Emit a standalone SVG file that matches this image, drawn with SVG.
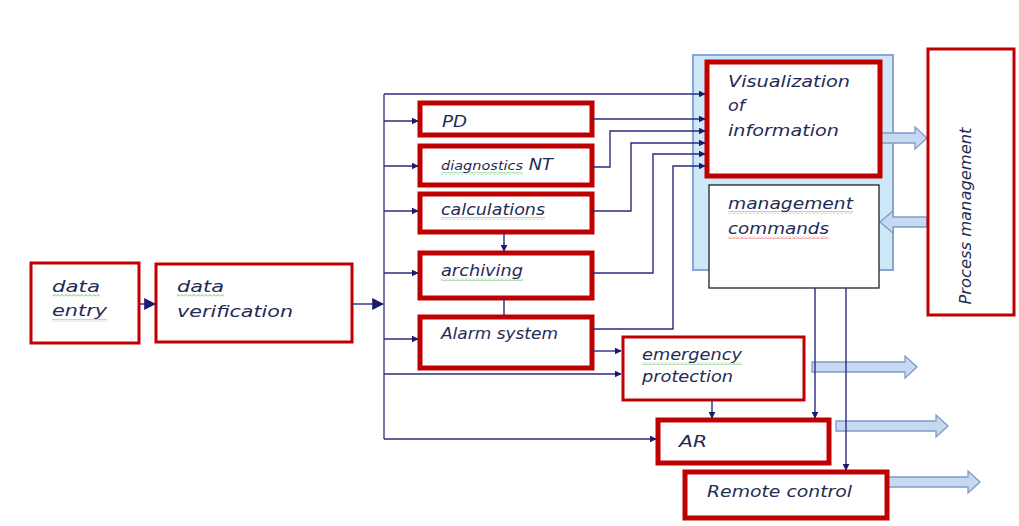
<svg xmlns="http://www.w3.org/2000/svg" width="1019" height="526" viewBox="0 0 1019 526">
<defs>
<marker id="ah" viewBox="0 0 10 10" refX="9" refY="5" markerWidth="7" markerHeight="7" markerUnits="userSpaceOnUse" orient="auto"><path d="M0,0 L10,5 L0,10 Z" fill="#1a1a6e"/></marker>
<marker id="ahb" viewBox="0 0 10 10" refX="9" refY="5" markerWidth="12" markerHeight="12" markerUnits="userSpaceOnUse" orient="auto"><path d="M0,0 L10,5 L0,10 Z" fill="#1a1a6e"/></marker>
<pattern id="gw" width="4" height="3" patternUnits="userSpaceOnUse"><path d="M0,2.5 L2,0.5 L4,2.5" fill="none" stroke="#4caf50" stroke-width="0.8"/></pattern>
<pattern id="rw" width="4" height="3" patternUnits="userSpaceOnUse"><path d="M0,2.5 L2,0.5 L4,2.5" fill="none" stroke="#e05050" stroke-width="0.8"/></pattern>
</defs>
<style>
.box{fill:#fff;stroke:#c00000;stroke-width:3}
.thick{stroke-width:5}
.t{font-family:"DejaVu Sans","Open Sans",sans-serif;font-style:italic;font-size:16px;fill:#1f2b55}
.c{fill:none;stroke:#2b2b7c;stroke-width:1.4}
.bus{fill:none;stroke:#55558f;stroke-width:1.6}
.blk{fill:#c6d9f0;stroke:#7e9cc8;stroke-width:1.3}
</style>
<rect width="1019" height="526" fill="#fff"/>
<g id="panel"><rect x="693" y="55" width="200" height="215" fill="#cfe8f8" stroke="#8aa4d6" stroke-width="2"/></g>
<g id="block-arrows">
<path class="blk" d="M881,133 L915,133 L915,127 L927,138 L915,149 L915,143 L881,143 Z"/>
<path class="blk" d="M927,217 L893,217 L893,211 L880,222 L893,233 L893,227 L927,227 Z"/>
<path class="blk" d="M812,362 L905,362 L905,356 L917,367 L905,378 L905,372 L812,372 Z"/>
<path class="blk" d="M836,421 L936,421 L936,415 L948,426 L936,437 L936,431 L836,431 Z"/>
<path class="blk" d="M887,477 L968,477 L968,471 L980,482 L968,493 L968,487 L887,487 Z"/>
</g>
<g id="data-entry"><rect class="box" x="31" y="263" width="108" height="80"/>
<rect x="52" y="294" width="48" height="3" fill="url(#gw)"/><rect x="52" y="319" width="55" height="3" fill="url(#gw)"/>
<text class="t" x="52" y="292" textLength="48" lengthAdjust="spacingAndGlyphs">data</text><text class="t" x="52" y="316" textLength="55" lengthAdjust="spacingAndGlyphs">entry</text></g>
<g id="data-verification"><rect class="box" x="156" y="264" width="196" height="78" stroke-width="4"/>
<rect x="177" y="294" width="47" height="3" fill="url(#gw)"/>
<text class="t" x="177" y="292" textLength="47" lengthAdjust="spacingAndGlyphs">data</text><text class="t" x="177" y="317" textLength="116" lengthAdjust="spacingAndGlyphs">verification</text></g>
<g id="pd"><rect class="box thick" x="420" y="103" width="172" height="32"/><text class="t" x="442" y="127" textLength="25" lengthAdjust="spacingAndGlyphs">PD</text></g>
<g id="diagnostics"><rect class="box thick" x="420" y="146" width="172" height="39"/>
<rect x="441" y="172" width="82" height="3" fill="url(#gw)"/>
<text class="t" x="441" y="170" textLength="112" lengthAdjust="spacingAndGlyphs"><tspan font-size="13">diagnostics</tspan> NT</text></g>
<g id="calculations"><rect class="box thick" x="420" y="194" width="172" height="38"/>
<rect x="441" y="217" width="104" height="3" fill="url(#gw)"/>
<text class="t" x="441" y="215" textLength="104" lengthAdjust="spacingAndGlyphs">calculations</text></g>
<g id="archiving"><rect class="box thick" x="420" y="253" width="172" height="45"/>
<rect x="441" y="278" width="82" height="3" fill="url(#gw)"/>
<text class="t" x="441" y="276" textLength="82" lengthAdjust="spacingAndGlyphs">archiving</text></g>
<g id="alarm"><rect class="box thick" x="420" y="317" width="172" height="51"/><text class="t" x="441" y="339" textLength="117" lengthAdjust="spacingAndGlyphs">Alarm system</text></g>
<g id="visualization"><rect class="box thick" x="707" y="62" width="173" height="114"/>
<text class="t" x="728" y="87" textLength="122" lengthAdjust="spacingAndGlyphs">Visualization</text><text class="t" x="728" y="111" textLength="17" lengthAdjust="spacingAndGlyphs">of</text><text class="t" x="728" y="136" textLength="111" lengthAdjust="spacingAndGlyphs">information</text></g>
<g id="management-commands"><rect x="709" y="185" width="170" height="103" fill="#fff" stroke="#222" stroke-width="1.3"/>
<rect x="728" y="211" width="125" height="3" fill="url(#rw)"/><rect x="728" y="236" width="101" height="3" fill="url(#rw)"/>
<text class="t" x="728" y="209" textLength="125" lengthAdjust="spacingAndGlyphs">management</text><text class="t" x="728" y="234" textLength="101" lengthAdjust="spacingAndGlyphs">commands</text></g>
<g id="process-management"><rect class="box" x="928" y="49" width="86" height="266" stroke-width="4"/>
<text class="t" transform="translate(971,216) rotate(-90)" text-anchor="middle" font-size="17" textLength="177" lengthAdjust="spacingAndGlyphs">Process management</text></g>
<g id="emergency"><rect class="box" x="623" y="337" width="181" height="63"/>
<rect x="642" y="362" width="100" height="3" fill="url(#gw)"/>
<text class="t" x="642" y="360" textLength="100" lengthAdjust="spacingAndGlyphs">emergency</text><text class="t" x="642" y="382" textLength="91" lengthAdjust="spacingAndGlyphs">protection</text></g>
<g id="ar"><rect class="box thick" x="658" y="420" width="171" height="43"/><text class="t" x="679" y="447" textLength="28" lengthAdjust="spacingAndGlyphs">AR</text></g>
<g id="remote-control"><rect class="box thick" x="685" y="472" width="202" height="46"/><text class="t" x="707" y="497" textLength="145" lengthAdjust="spacingAndGlyphs">Remote control</text></g>
<g id="connectors">
<path class="c" d="M139,304 L155,304" marker-end="url(#ahb)" stroke-width="2.5"/>
<path class="c" d="M352,304 L383,304" marker-end="url(#ahb)" stroke-width="2.5"/>
<path class="bus" d="M384,94 L384,439"/>
<path class="c" d="M384,94 L705,94" marker-end="url(#ah)"/>
<path class="c" d="M384,121 L418,121" marker-end="url(#ah)"/>
<path class="c" d="M384,166 L418,166" marker-end="url(#ah)"/>
<path class="c" d="M384,211 L418,211" marker-end="url(#ah)"/>
<path class="c" d="M384,273 L418,273" marker-end="url(#ah)"/>
<path class="c" d="M384,339 L418,339" marker-end="url(#ah)"/>
<path class="c" d="M384,374 L621,374" marker-end="url(#ah)"/>
<path class="c" d="M384,439 L656,439" marker-end="url(#ah)"/>
<path class="c" d="M592,119 L705,119" marker-end="url(#ah)"/>
<path class="c" d="M592,167 L610,167 L610,131 L705,131" marker-end="url(#ah)"/>
<path class="c" d="M592,211 L631,211 L631,143 L705,143" marker-end="url(#ah)"/>
<path class="c" d="M592,273 L653,273 L653,154 L705,154" marker-end="url(#ah)"/>
<path class="c" d="M592,329 L673,329 L673,166 L705,166" marker-end="url(#ah)"/>
<path class="c" d="M504,232 L504,251" marker-end="url(#ah)"/>
<path class="c" d="M504,298 L504,316"/>
<path class="c" d="M592,351 L621,351" marker-end="url(#ah)"/>
<path class="c" d="M712,400 L712,418" marker-end="url(#ah)"/>
<path class="c" d="M815,288 L815,418" marker-end="url(#ah)"/>
<path class="c" d="M846,288 L846,470" marker-end="url(#ah)"/>
</g>
</svg>
